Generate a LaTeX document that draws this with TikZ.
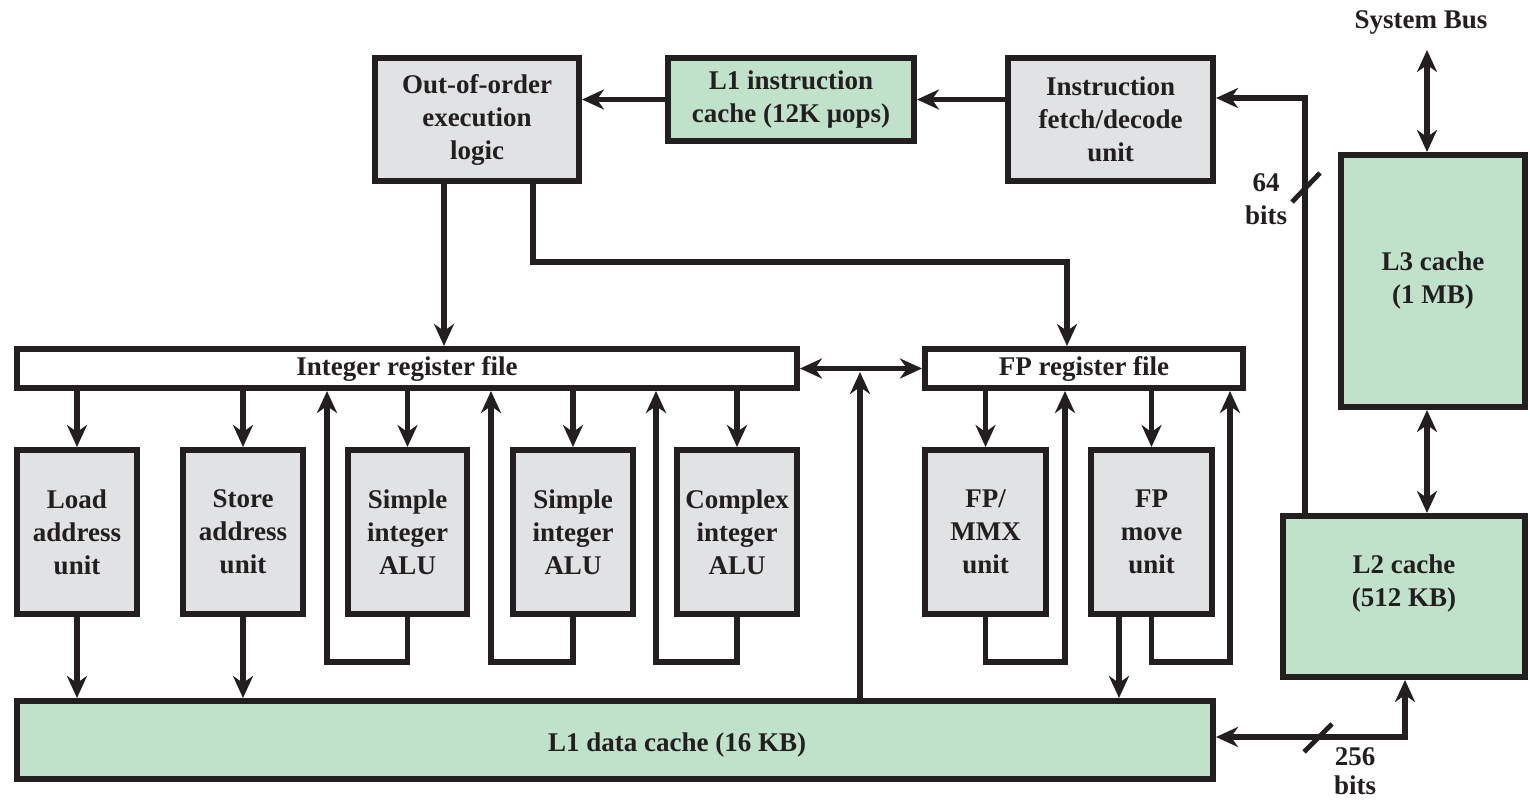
\documentclass[tikz,border=0pt]{standalone}
\usepackage{fontspec}
\setmainfont{Liberation Serif}
\usetikzlibrary{arrows.meta}
\definecolor{ink}{HTML}{231F20}
\definecolor{unitgray}{HTML}{E1E2E4}
\definecolor{cachegreen}{HTML}{C0E2CB}
\newcommand\diagfont{\fontsize{13.5pt}{16.5pt}\selectfont\bfseries}
\newcommand\tightfont{\fontsize{13.5pt}{14.5pt}\selectfont\bfseries}
\tikzset{
  box/.style={draw=ink, line width=3pt, inner sep=0pt, align=center, font=\diagfont, text=ink},
  sz/.style 2 args={minimum width={(#1-6)*0.5pt}, minimum height={(#2-6)*0.5pt}},
  unit/.style={box, fill=unitgray},
  cache/.style={box, fill=cachegreen},
  regfile/.style={box, fill=white},
  lbl/.style={font=\diagfont, text=ink, align=center, inner sep=0pt},
  tip/.tip={Stealth[length=11pt,width=10pt,inset=3.5pt]},
  arr/.style={draw=ink, line width=2.6pt, -tip},
  dbl/.style={draw=ink, line width=2.6pt, tip-tip},
  slash/.style={draw=ink, line width=2.4pt}
}
\begin{document}
\begin{tikzpicture}[x=0.5pt,y=-0.5pt]
\useasboundingbox (0,0) rectangle (1530,801);

% front end
\node[unit, sz={210}{129}] (ooo) at (477,119.5) {Out-of-order\\execution\\logic};
\node[cache, sz={252}{89}] (l1i) at (791,99.5) {L1 instruction\\cache (12K μops)};
\node[unit, sz={211}{129}] (ifd) at (1110.5,119.5) {Instruction\\fetch/decode\\unit};

% outer caches
\node[cache, sz={190}{258}] (l3) at (1433,281) {L3 cache\\(1 MB)};
\node[cache, sz={248}{167}, label={[lbl,yshift=6.5pt]center:{L2 cache\\(512 KB)}}] (l2) at (1404,596.5) {};
\node[lbl] (sysbus) at (1421,22) {System Bus};

% register files
\node[regfile, sz={786}{45}] (irf) at (407,368.5) {Integer register file};
\node[regfile, sz={324}{45}] (fprf) at (1084,368.5) {FP register file};

% execution units
\node[unit, sz={126}{170}] (load) at (77,532) {Load\\address\\unit};
\node[unit, sz={126}{170}] (store) at (243,532) {Store\\address\\unit};
\node[unit, sz={125}{170}] (sia) at (407.5,532) {Simple\\integer\\ALU};
\node[unit, sz={126}{170}] (sib) at (573,532) {Simple\\integer\\ALU};
\node[unit, sz={126}{170}] (cia) at (737,532) {Complex\\integer\\ALU};
\node[unit, sz={127}{170}] (fpmmx) at (985.5,532) {FP/\\MMX\\unit};
\node[unit, sz={127}{170}] (fpmove) at (1151.5,532) {FP\\move\\unit};

% data cache
\node[cache, sz={1202}{84}, label={[lbl,xshift=31pt,yshift=-2.5pt]center:L1 data cache (16 KB)}] (l1d) at (615,740) {};

% routing points
\coordinate (oa) at (444,0);
\coordinate (ob) at (533,0);
\coordinate (fpin) at (1067,262);
\coordinate (fill64) at (1305,98);
\coordinate (sb) at (1427,50);
\coordinate (l2turn) at (1405,737);
\coordinate (bus) at (860,372);
\coordinate (ra) at (327,0);
\coordinate (rb) at (491,0);
\coordinate (rc) at (656,0);
\coordinate (rd) at (1065,0);
\coordinate (re) at (1230,0);
\coordinate (fmd) at (1119,0);

% front-end flow
\draw[arr] (ifd.west |- l1i.east) -- (l1i.east);
\draw[arr] (l1i.west) -- (ooo.east |- l1i.west);
\draw[arr] (fill64 |- l2.north) -- (fill64) -- (ifd.east |- fill64);
\draw[slash] (1292,202) -- (1320,173);
\node[lbl] (w64) at (1266,199) {64\\bits};

% dispatch to register files
\draw[arr] (oa |- ooo.south) -- (oa |- irf.north);
\draw[arr] (ob |- ooo.south) |- (fpin) -- (fpin |- fprf.north);

% register file exchange and data cache path
\draw[dbl] (irf.east) -- (fprf.west);
\draw[arr] (bus |- l1d.north) -- (bus);

% integer units
\foreach \u in {load,store,sia,sib,cia}
  \draw[arr] (\u.north |- irf.south) -- (\u.north);
\draw[arr] (load.south) -- (load.south |- l1d.north);
\draw[arr] (store.south) -- (store.south |- l1d.north);
\draw[arr] (sia.south) -- ++(0,45) -| (ra |- irf.south);
\draw[arr] (sib.south) -- ++(0,45) -| (rb |- irf.south);
\draw[arr] (cia.south) -- ++(0,45) -| (rc |- irf.south);

% floating-point units
\draw[arr] (fpmmx.north |- fprf.south) -- (fpmmx.north);
\draw[arr] (fpmove.north |- fprf.south) -- (fpmove.north);
\draw[arr] (fpmmx.south) -- ++(0,45) -| (rd |- fprf.south);
\draw[arr] (fpmove.south) -- ++(0,45) -| (re |- fprf.south);
\draw[arr] (fmd |- fpmove.south) -- (fmd |- l1d.north);

% outer cache links
\draw[dbl] (sb) -- (sb |- l3.north);
\draw[dbl] (sb |- l3.south) -- (sb |- l2.north);
\draw[dbl] (l1d.east |- l2turn) -- (l2turn) -- (l2turn |- l2.south);
\draw[slash] (1304,752) -- (1332,724);
\node[lbl, font=\tightfont] (w256) at (1355,771) {256\\bits};
\end{tikzpicture}
\end{document}
